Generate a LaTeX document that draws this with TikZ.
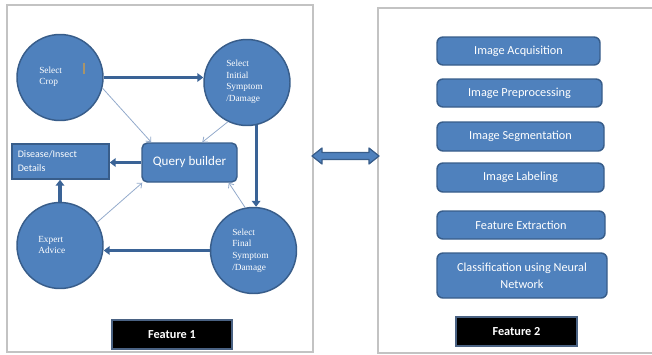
\documentclass[tikz,border=0pt]{standalone}
\usepackage{fontspec}
\setmainfont{Liberation Serif}
\newfontfamily\calib{Carlito}
\usetikzlibrary{arrows.meta}
\definecolor{fillblue}{HTML}{4F81BD}
\definecolor{edgeblue}{HTML}{385D8A}
\definecolor{linkblue}{HTML}{3A6396}
\definecolor{framegray}{HTML}{C3C3C3}
\definecolor{thinblue}{HTML}{93AACB}
\definecolor{tagedge}{HTML}{4A6283}
\definecolor{cursortan}{HTML}{A8946A}

\begin{document}
\begin{tikzpicture}[x=0.75pt,y=-0.75pt,
  frame/.style={draw=framegray,line width=1.4pt,inner sep=0},
  circ/.style={circle,fill=fillblue,draw=edgeblue,line width=1.1pt,minimum size=64.5pt,inner sep=0},
  ctext/.style={anchor=north west,inner sep=0,align=left,text=white,font=\fontsize{7}{8.7}\selectfont},
  box/.style={rectangle,rounded corners=4.5pt,fill=fillblue,draw=edgeblue,line width=1.1pt,
    text=white,inner sep=0,align=center,font=\calib\fontsize{9.2}{12.8}\selectfont},
  tag/.style={rectangle,fill=black,draw=tagedge,line width=0.9pt,text=white,inner sep=0,
    font=\calib\bfseries\fontsize{9.2}{11}\selectfont},
  flow/.style={draw=linkblue,line width=2.3pt,-{Triangle[length=4.5pt,width=6.5pt]}},
  feed/.style={draw=thinblue,line width=0.6pt,-{Straight Barb[length=3pt,width=5pt]}},
  bigarrow/.style={fill=fillblue,draw=edgeblue,line width=0.9pt,line join=round}]
\useasboundingbox (0,0) rectangle (652,354);

% two frames
\node[frame,minimum width=229.5pt,minimum height=260.25pt] (left) at (160,178.5) {};
\node[frame,minimum width=219pt,minimum height=258.75pt] (right) at (524,180.5) {};

% feature 1: decision flow
\node[circ] (crop) at (60,77.5) {};
\node[circ] (init) at (247,82.5) {};
\node[circ] (expert) at (60,245.5) {};
\node[circ] (final) at (253.5,250.5) {};
\node[ctext] at (39,66.5) {Select\\Crop};
\draw[cursortan,line width=0.8pt] (84,63) -- (84,74);
\node[ctext] at (226,60) {Select\\Initial\\Symptom\\/Damage};
\node[ctext] at (232,228.5) {Select\\Final\\Symptom\\/Damage};
\node[ctext] at (38,236) {Expert\\Advice};

\node[box,rounded corners=4pt,minimum width=71.25pt,minimum height=29.25pt,
  font=\calib\fontsize{9.8}{12}\selectfont] (query) at (189.5,162.5) {Query builder};
\node[box,rounded corners=0pt,minimum width=72.75pt,minimum height=26.25pt,
  text width=64pt,align=left,font=\calib\fontsize{7.5}{10.5}\selectfont] (details) at (60.5,161.5)
  {Disease/Insect\\Details};

\draw[flow] (crop.east) -- (crop.east -| init.west);
\draw[flow] (init.-78) -- (init.-78 |- final.north);
\draw[flow] (final.west) -- (final.west -| expert.east);
\draw[flow] (expert.north) -- (expert.north |- details.south);
\draw[flow] (query.west) -- (query.west -| details.east);

\draw[feed] (crop.-14) -- ([xshift=7.5pt]query.north west);
\draw[feed] (init.-116) -- ([xshift=45.75pt]query.north west);
\draw[feed] (expert.32) -- ([xshift=0.75pt]query.south west);
\draw[feed] (final.101) -- ([xshift=-6.75pt]query.south east);

\node[tag,minimum width=90pt,minimum height=21.75pt] (tag1) at (172,334.5) {Feature 1};

% feature 2: image pipeline
\node[box,minimum width=122.25pt,minimum height=21pt] (acq) at (518.5,51) {Image Acquisition};
\node[box,minimum width=123.75pt,minimum height=21pt] (pre) at (519.5,93) {Image Preprocessing};
\node[box,minimum width=125.25pt,minimum height=21.75pt] (seg) at (520.5,136.5) {Image Segmentation};
\node[box,minimum width=125.25pt,minimum height=21.75pt] (lab) at (520.5,177.5) {Image Labeling};
\node[box,minimum width=126pt,minimum height=21pt] (fex) at (521,225) {Feature Extraction};
\node[box,minimum width=127.5pt,minimum height=33.75pt] (cls) at (522,275.5)
  {Classification using Neural\\Network};

\node[tag,minimum width=90.75pt,minimum height=21.75pt] (tag2) at (516.5,331.5) {Feature 2};

% link between the two features
\coordinate (dl) at (312,156);
\coordinate (dr) at (379,156);
\draw[bigarrow] (dl) -- ++(10,-8) -- ++(0,4.5) -- ([shift={(-10,-3.5)}]dr) -- ++(0,-4.5)
  -- (dr) -- ++(-10,8) -- ++(0,-4.5) -- ([shift={(10,3.5)}]dl) -- ++(0,4.5) -- cycle;
\end{tikzpicture}
\end{document}
